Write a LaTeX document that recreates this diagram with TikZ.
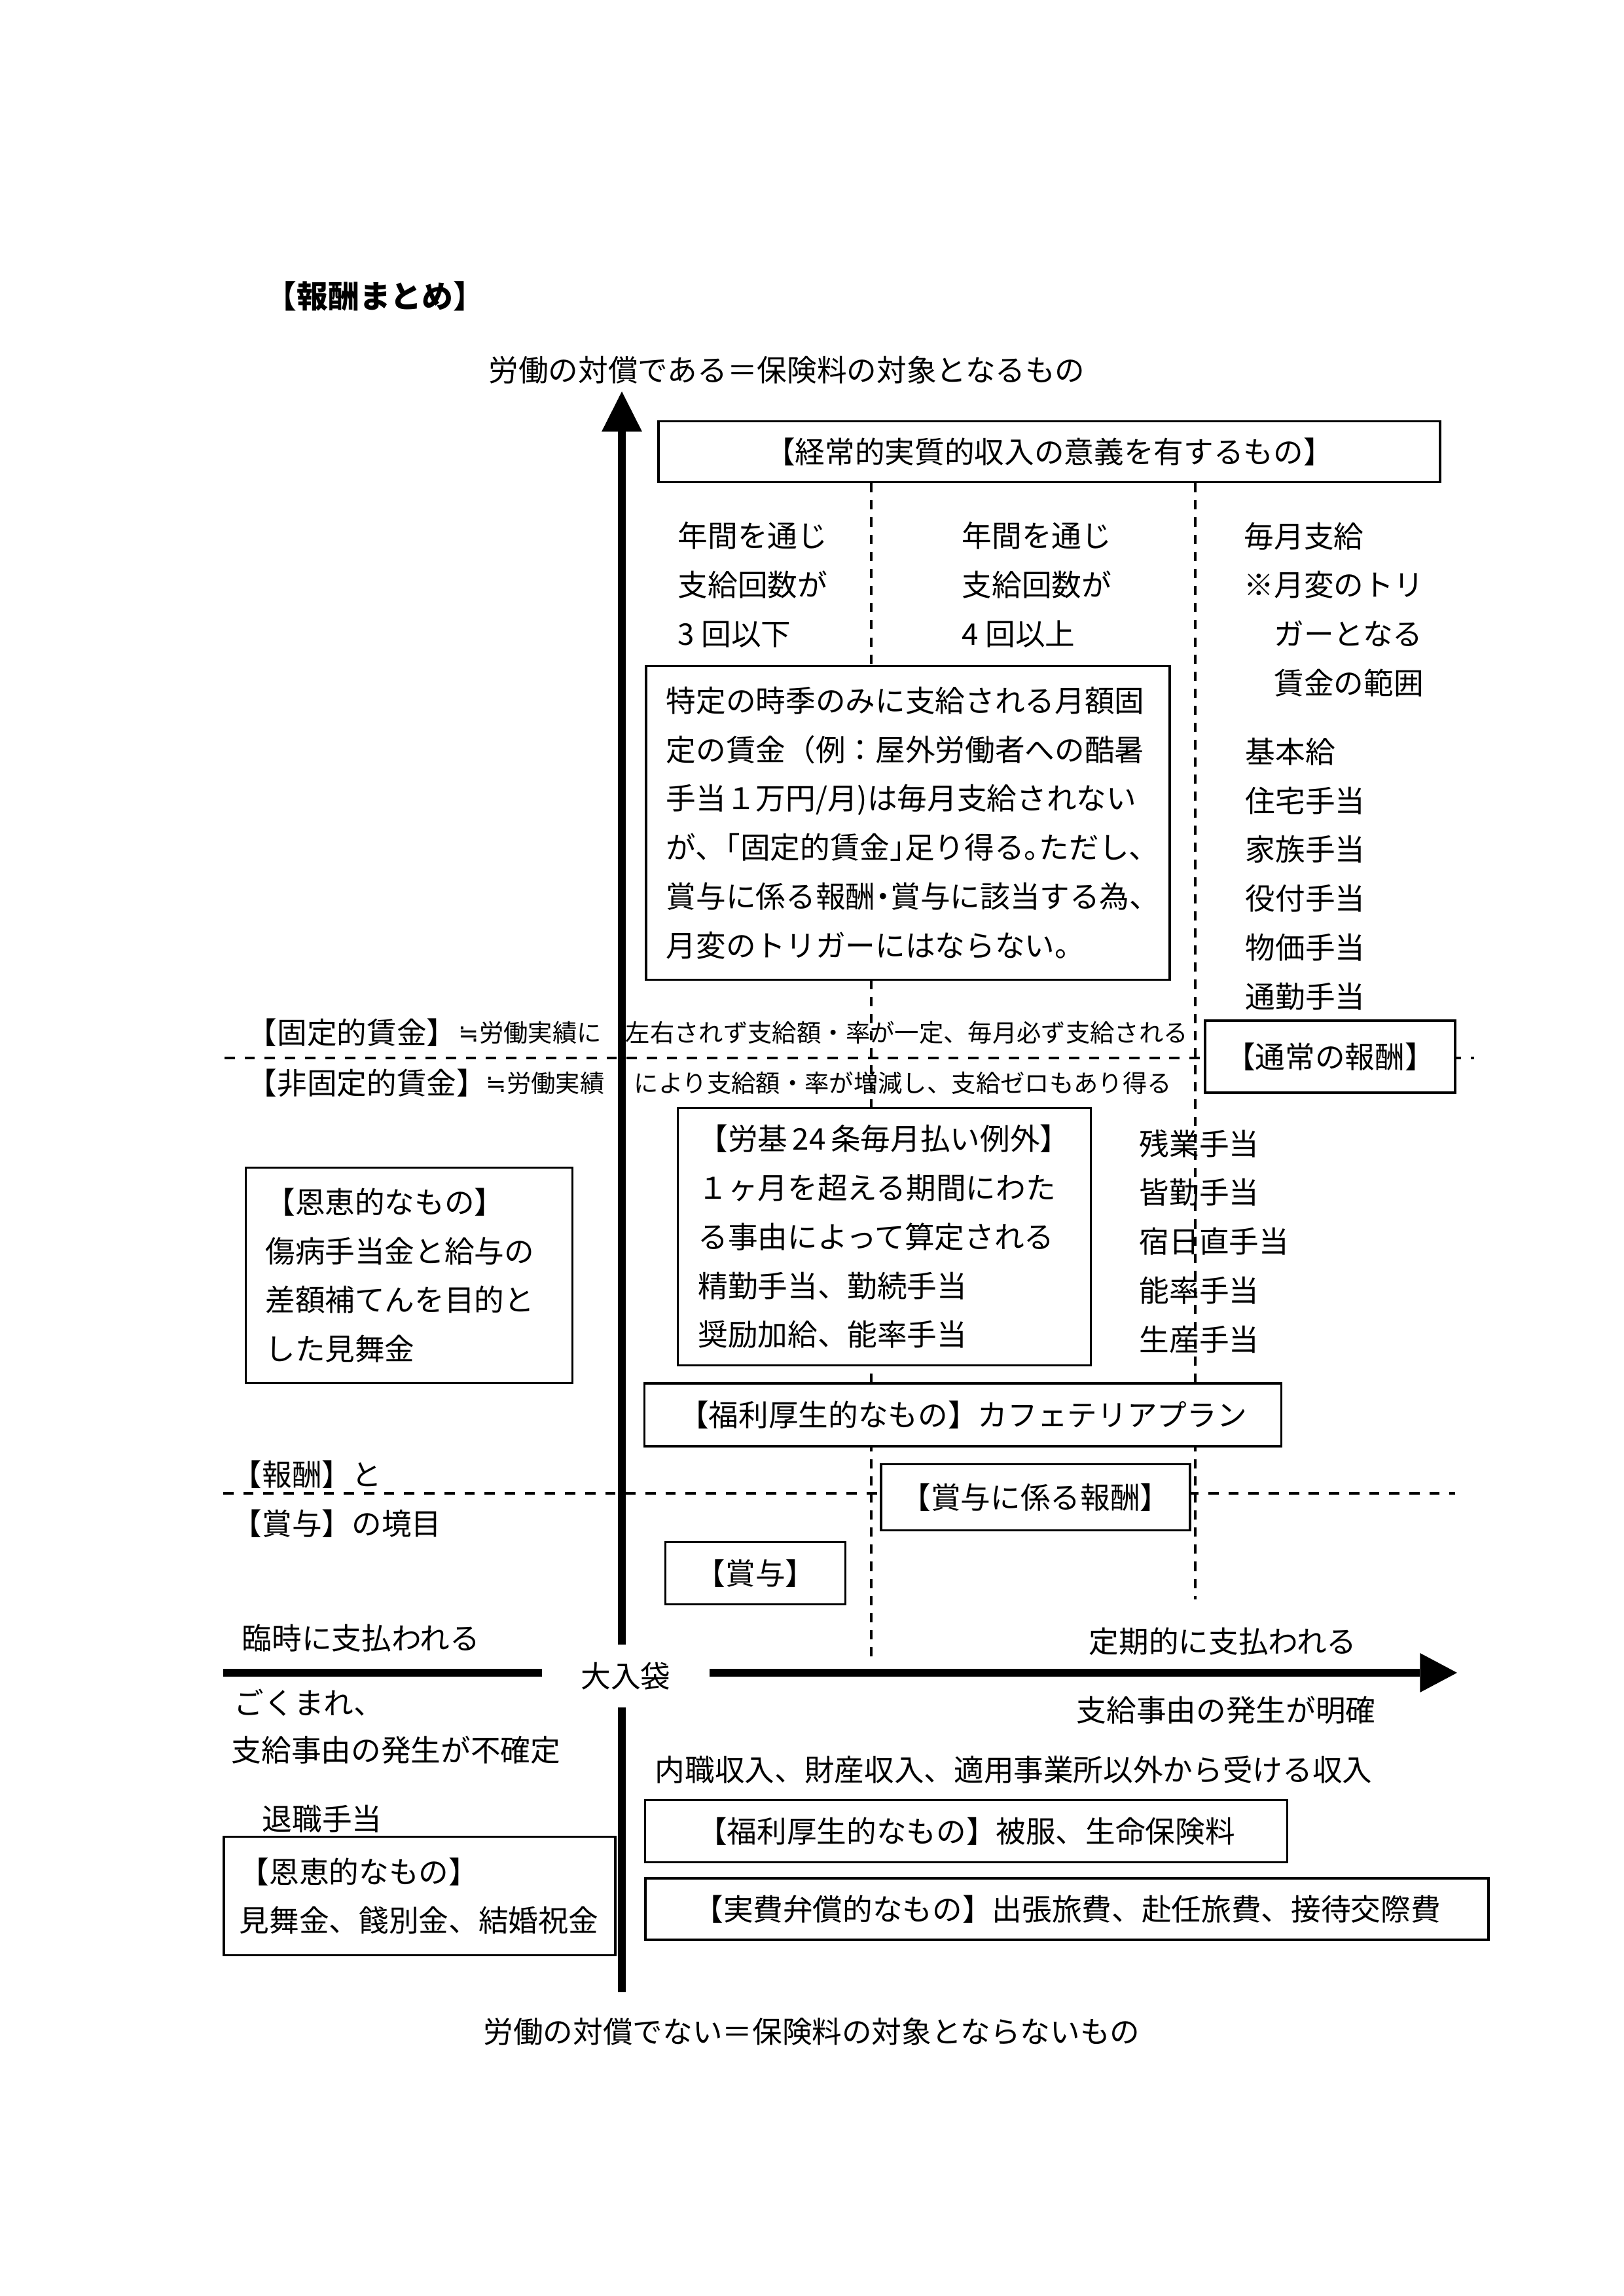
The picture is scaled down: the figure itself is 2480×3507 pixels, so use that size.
\documentclass[tikz,border=0pt]{standalone}
\usepackage{fontspec}
\setmainfont{Noto Sans CJK JP}
\newfontfamily\kigou{DejaVu Sans}
\usepackage{tikz}
\usetikzlibrary{arrows.meta,positioning,backgrounds}
\newcommand\honbun{\fontsize{11pt}{18pt}\selectfont}
\newcommand\chuki{\fontsize{9pt}{12pt}\selectfont}
\newcommand\midashi{\fontsize{11.5pt}{14pt}\selectfont\bfseries}
\newcommand\nearlyeq{{\kigou ≒}}

\begin{document}
\begin{tikzpicture}[x=0.08468mm,y=-0.08468mm]%
        \useasboundingbox (0,0) rectangle (2480,3507);%%
        \tikzstyle{axis}=[line width=2.9pt] %%
        \tikzstyle{divline}=[line width=1.15pt,dash pattern=on 3.8pt off 3.6pt] %%
        \tikzstyle{colline}=[line width=.8pt,dash pattern=on 3.4pt off 2.9pt] %%
        %% framed boxes
        \begin{scope}
        \tikzstyle{every node}=[draw,line width=.8pt,fill=white,inner sep=0pt,font=\honbun,align=left] %%
        \node[minimum width=101.1mm,minimum height=7.88mm,align=center] (kj) at (1603,690) {【経常的実質的収入の意義を有するもの】}; %%
        \node[minimum width=67.74mm,minimum height=40.56mm,text width=62.5mm] (tk) at (1387,1257) {特定の時季のみに支給される月額固\\定の賃金（例：屋外労働者への酷暑\\手当１万円/月)は毎月支給されない\\が、\kern-.5em「固定的賃金」\kern-.5em足り得る。\kern-.5emただし、\\賞与に係る報酬\kern-.25em・\kern-.25em賞与に該当する為、\\月変のトリガーにはならない。}; %%
        \node[minimum width=32.35mm,minimum height=9.31mm,align=center] (tj) at (2032,1614) {【通常の報酬】}; %%
        \node[minimum width=53.43mm,minimum height=33.28mm,text width=48.2mm] (rk) at (1351,1889) {【労基\,24\,条毎月払い例外】\\１ヶ月を超える期間にわた\\る事由によって算定される\\精勤手当、勤続手当\\奨励加給、能率手当}; %%
        \node[minimum width=42.26mm,minimum height=27.86mm,text width=37.2mm] (oe1) at (625,1948) {【恩恵的なもの】\\傷病手当金と給与の\\差額補てんを目的と\\した見舞金}; %%
        \node[minimum width=82.39mm,minimum height=8.13mm,align=center] (fk1) at (1471,2161) {【福利厚生的なもの】カフェテリアプラン}; %%
        \node[minimum width=39.97mm,minimum height=8.55mm,align=center] (sk) at (1582,2287) {【賞与に係る報酬】}; %%
        \node[minimum width=23.29mm,minimum height=8.04mm,align=center] (sy) at (1154,2403) {【賞与】}; %%
        \node[minimum width=83.07mm,minimum height=8.04mm,align=center] (fk2) at (1476,2797) {【福利厚生的なもの】被服、生命保険料}; %%
        \node[minimum width=109.07mm,minimum height=7.96mm,align=center] (jh) at (1630,2916) {【実費弁償的なもの】出張旅費、赴任旅費、接待交際費}; %%
        \node[minimum width=50.64mm,minimum height=15.33mm,text width=46.6mm] (oe2) at (641,2896) {【恩恵的なもの】\\見舞金、餞別金、結婚祝金}; %%
        \end{scope}
        %% plain texts
        \begin{scope}
        \tikzstyle{every node}=[inner sep=0pt,font=\honbun,anchor=west,align=left] %%
        \node[font=\midashi] (title) at (405,452) {【報酬まとめ】}; %%
        \node[anchor=center] (top) at (1202,565) {労働の対償である＝保険料の対象となるもの}; %%
        \node[anchor=center] (bottom) at (1240,3103) {労働の対償でない＝保険料の対象とならないもの}; %%
        \node (c1) at (1035,893) {年間を通じ\\支給回数が\\3 回以下}; %%
        \node (c2) at (1469,893) {年間を通じ\\支給回数が\\4 回以上}; %%
        \node (c3a) at (1900,931) {毎月支給\\※月変のトリ\\\hspace*{1em}ガーとなる\\\hspace*{1em}賃金の範囲}; %%
        \node (c3b) at (1902,1335) {基本給\\住宅手当\\家族手当\\役付手当\\物価手当\\通勤手当}; %%
        \node (fix1) at (377,1577) {【固定的賃金】}; %%
        \node[font=\chuki] (fix1a) at (700,1577) {\nearlyeq 労働実績に}; %%
        \node[font=\chuki] (fix1b) at (955,1577) {左右されず支給額・率が一定、毎月必ず支給される}; %%
        \node (fix2) at (377,1654) {【非固定的賃金】}; %%
        \node[font=\chuki] (fix2a) at (742,1654) {\nearlyeq 労働実績}; %%
        \node[font=\chuki] (fix2b) at (968,1654) {により支給額・率が増減し、支給ゼロもあり得る}; %%
        \node (c4) at (1740,1896) {残業手当\\皆勤手当\\宿日直手当\\能率手当\\生産手当}; %%
        \node (bd1) at (354,2252) {【報酬】と}; %%
        \node (bd2) at (354,2327) {【賞与】の境目}; %%
        \node (rinji) at (369,2502) {臨時に支払われる}; %%
        \node (teiki) at (1663,2507) {定期的に支払われる}; %%
        \node (mare) at (357,2601) {ごくまれ、}; %%
        \node (futei) at (353,2673) {支給事由の発生が不確定}; %%
        \node (meikaku) at (1644,2612) {支給事由の発生が明確}; %%
        \node (naishoku) at (1000,2703) {内職収入、財産収入、適用事業所以外から受ける収入}; %%
        \node (taishoku) at (400,2778) {退職手当}; %%
        \node[anchor=center,minimum width=21.6mm,minimum height=8mm] (oiri) at (956,2560) {大入袋}; %%
        \end{scope}
        %% axes
        \coordinate (axtop) at (950,598); %%
        \coordinate (axbot) at (950,3043); %%
        \coordinate (axleft) at (341,2555); %%
        \coordinate (axright) at (2226,2555); %%
        \draw[axis,-{Triangle[length=5.2mm,width=5.25mm,line width=0pt]}] (axtop |- oiri.north) -- (axtop); %%
        \draw[axis] (axbot |- oiri.south) -- (axbot); %%
        \draw[axis] (axleft) -- (axleft -| oiri.west); %%
        \draw[axis,-{Triangle[length=4.8mm,width=5.1mm,line width=0pt]}] (axright -| oiri.east) -- (axright); %%
        %% dashed rules behind the boxes
        \coordinate (d1) at (1331,2533); %%
        \coordinate (d2) at (1826,2443); %%
        \coordinate (dl1) at (343,1616); %%
        \coordinate (dr1) at (2252,1616); %%
        \coordinate (dl2) at (341,2281); %%
        \coordinate (dr2) at (2223,2281); %%
        \begin{scope}[on background layer]
        \draw[colline] (d1 |- kj.south) -- (d1); %%
        \draw[colline] (d2 |- kj.south) -- (d2); %%
        \draw[divline] (dl1) -- (dr1); %%
        \draw[divline] (dl2) -- (dr2); %%
        \end{scope}
\end{tikzpicture}
\end{document}
